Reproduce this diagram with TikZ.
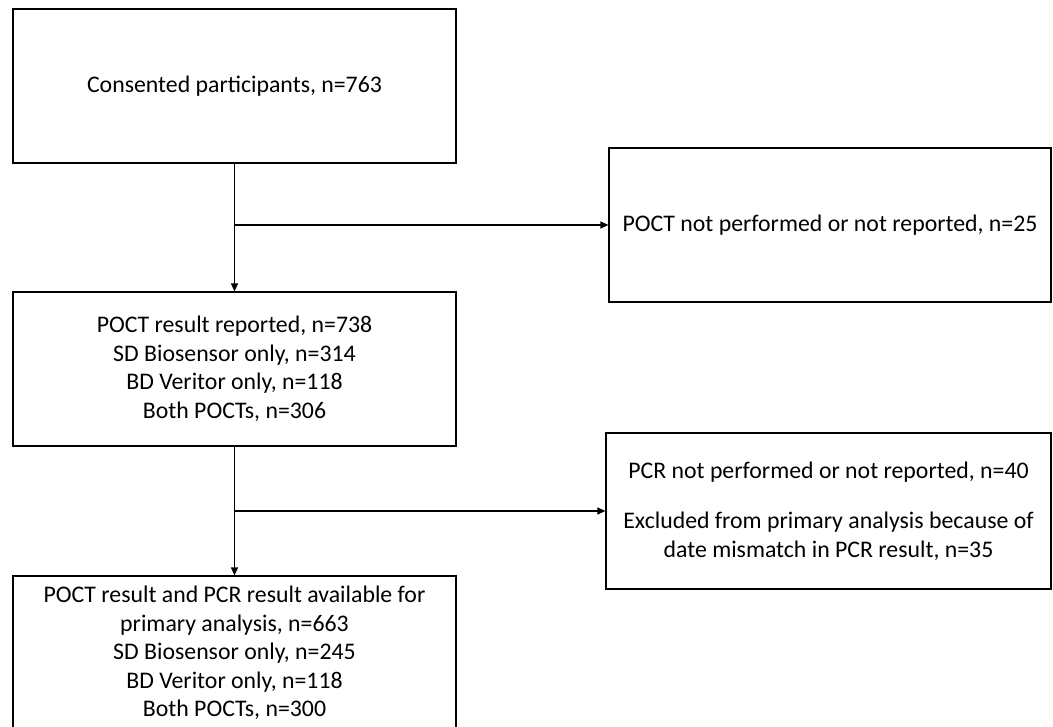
\documentclass[tikz,border=0pt]{standalone}
\usepackage{fontspec}
\setmainfont{Carlito}
\usetikzlibrary{arrows.meta}

\begin{document}
\begin{tikzpicture}[x=1pt,y=-1pt,>={Triangle[length=8pt,width=7pt]},line width=1.2pt,
  flowbox/.style={draw,align=center,font=\fontsize{23.8}{28.5}\selectfont,inner sep=0pt}]
\useasboundingbox (0,0) rectangle (1053,727);
\node[flowbox,minimum width=443,minimum height=154] (consent) at (234.5,86) {Consented participants, n=763};
\node[flowbox,minimum width=442,minimum height=154] (nopoct) at (830,225) {POCT not performed or not reported, n=25};
\node[flowbox,minimum width=443,minimum height=154] (poct) at (234.5,369) {POCT result reported, n=738\\SD Biosensor only, n=314\\BD Veritor only, n=118\\Both POCTs, n=306};
\node[flowbox,minimum width=445,minimum height=156] (nopcr) at (828.5,511) {PCR not performed or not reported, n=40\\[22pt]Excluded from primary analysis because of\\date mismatch in PCR result, n=35};
\node[flowbox,minimum width=443,minimum height=154] (primary) at (234.5,653) {POCT result and PCR result available for\\primary analysis, n=663\\SD Biosensor only, n=245\\BD Veritor only, n=118\\Both POCTs, n=300};
\draw[->] (consent) -- (poct);
\draw[->] (consent.south |- nopoct.west) -- (nopoct);
\draw[->] (poct) -- (primary);
\draw[->] (poct.south |- nopcr.west) -- (nopcr);
\end{tikzpicture}
\end{document}
